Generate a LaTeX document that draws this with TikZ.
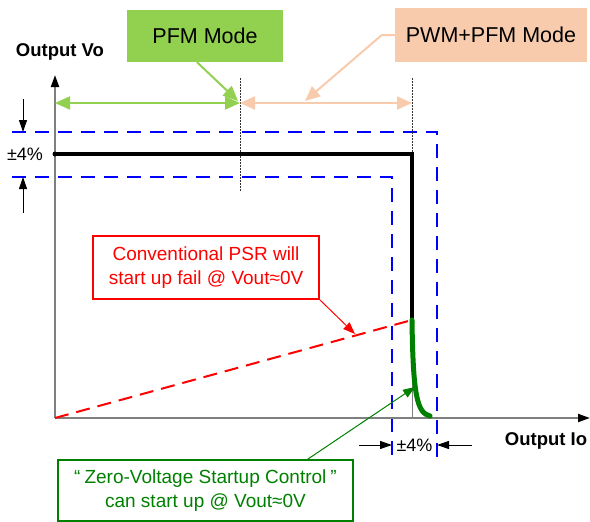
\documentclass[tikz,border=0pt]{standalone}
\usepackage{fontspec}
\setmainfont{Liberation Sans}
\usetikzlibrary{arrows.meta}
\definecolor{pfmgreen}{HTML}{92D050}
\definecolor{pwmpeach}{HTML}{F8CBAD}
\definecolor{dkgreen}{HTML}{008000}
\definecolor{axisgray}{HTML}{7F7F7F}
\begin{document}
\begin{tikzpicture}[x=1pt,y=-1pt,
  axisline/.style={draw=axisgray, line width=2pt, -{Triangle[length=12pt,width=8pt,color=black]}},
  tolband/.style={draw=blue, line width=2pt, dash pattern=on 14pt off 9pt},
  modebox/.style={draw=none, inner sep=0pt, font=\fontsize{21.5}{24}\selectfont},
  callout/.style={line width=1.3pt, inner sep=0pt, align=center, font=\fontsize{19}{24.5}\selectfont},
  axislabel/.style={inner sep=0pt, font=\fontsize{18.5}{22}\selectfont\bfseries},
  pctlabel/.style={inner sep=0pt, font=\fontsize{18}{22}\selectfont},
  bigdouble/.style={line width=2pt, {Triangle[length=15pt,width=13pt]}-{Triangle[length=15pt,width=13pt]}},
  bigpointer/.style={line width=2pt, -{Triangle[length=15pt,width=13pt]}},
  smallpointer/.style={line width=1pt, -{Triangle[length=12pt,width=9pt]}},
  pctarrow/.style={line width=1pt, -{Triangle[length=12pt,width=8pt]}},
  guide/.style={draw=black!80, line width=0.8pt, dash pattern=on 1.5pt off 1.5pt}
]
\useasboundingbox (0,0) rectangle (590,522);

% coordinates
\coordinate (O) at (55,418);
\coordinate (ytip) at (55,75);
\coordinate (xtip) at (590,418);
\coordinate (vstart) at (55,154);
\coordinate (corner) at (412,154);
\coordinate (knee) at (412,320);
\coordinate (kneefoot) at (412,418);
\coordinate (gend) at (430,416);
\coordinate (div) at (240,103);
\coordinate (divtop) at (240,78);
\coordinate (divbot) at (240,192);
\coordinate (rend) at (412,103);
\coordinate (rtop) at (412,78);
\coordinate (lend) at (55,103);

% tolerance bands
\draw[tolband] (12,132) -- (437,132) -- (437,463);
\draw[tolband] (12,177) -- (392,177) -- (392,463);

% axes
\draw[axisline] (O) -- (ytip);
\draw[axisline] (O) -- (xtip);

% guides
\draw[guide] (divtop) -- (divbot);
\draw[guide] (rtop) -- (corner);
\draw[draw=axisgray, line width=1pt] (knee) -- (kneefoot);

% conventional PSR line
\draw[red, line width=2pt, dash pattern=on 14pt off 8pt] (O) -- (knee);

% output curve
\draw[black, line width=4.5pt] (vstart) -- (corner) -- (knee);
\fill (vstart) circle (2.5pt);
\draw[dkgreen, line width=5pt, line cap=round] (knee) .. controls (413,395) and (417,413) .. (gend);

% mode arrows
\draw[bigdouble, pfmgreen] (lend) -- (div);
\draw[bigdouble, pwmpeach] (div) -- (rend);

% mode boxes
\node[modebox, fill=pfmgreen, minimum width=156pt, minimum height=52pt] (pfm) at (205,36) {PFM Mode};
\node[modebox, fill=pwmpeach, minimum width=192pt, minimum height=54pt] (pwm) at (491,35) {PWM+PFM Mode};
\coordinate (pfmtip) at (238,101);
\coordinate (pwmtip) at (305,101);
\draw[bigpointer, pfmgreen] ([xshift=-8pt]pfm.south) -- (pfmtip);
\draw[bigpointer, pwmpeach] (pwm.west) -- ++(-13,0) -- (pwmtip);

% axis labels
\node[axislabel] (vo) at (60,52) {Output Vo};
\node[axislabel] (io) at (546,441) {Output Io};

% +-4% left
\node[pctlabel] (pctl) at (25,154) {±4\%};
\coordinate (la1) at (23,99);
\coordinate (la1t) at (23,132);
\coordinate (la2) at (23,213);
\coordinate (la2t) at (23,177);
\draw[pctarrow] (la1) -- (la1t);
\draw[pctarrow] (la2) -- (la2t);

% +-4% bottom
\node[pctlabel] (pctb) at (414.5,445) {±4\%};
\coordinate (ba1) at (359,445);
\coordinate (ba1t) at (392,445);
\coordinate (ba2) at (472,445);
\coordinate (ba2t) at (437,445);
\draw[pctarrow] (ba1) -- (ba1t);
\draw[pctarrow] (ba2) -- (ba2t);

% callouts
\node[callout, draw=red, text=red, fill=white, minimum width=226pt, minimum height=63pt] (psr) at (206,267.5)
  {Conventional PSR will\\start up fail @ Vout≈0V};
\coordinate (psrtip) at (355,334);
\draw[smallpointer, red] (psr.south east) -- (psrtip);

\node[callout, draw=dkgreen, text=dkgreen, fill=white, minimum width=295pt, minimum height=61pt] (zvs) at (205.5,490.5)
  {“\hspace{4pt}Zero-Voltage Startup Control\hspace{4pt}”\\can start up @ Vout≈0V};
\coordinate (zvstip) at (415,387);
\draw[smallpointer, dkgreen] ([xshift=102pt]zvs.north) -- (zvstip);
\end{tikzpicture}
\end{document}
